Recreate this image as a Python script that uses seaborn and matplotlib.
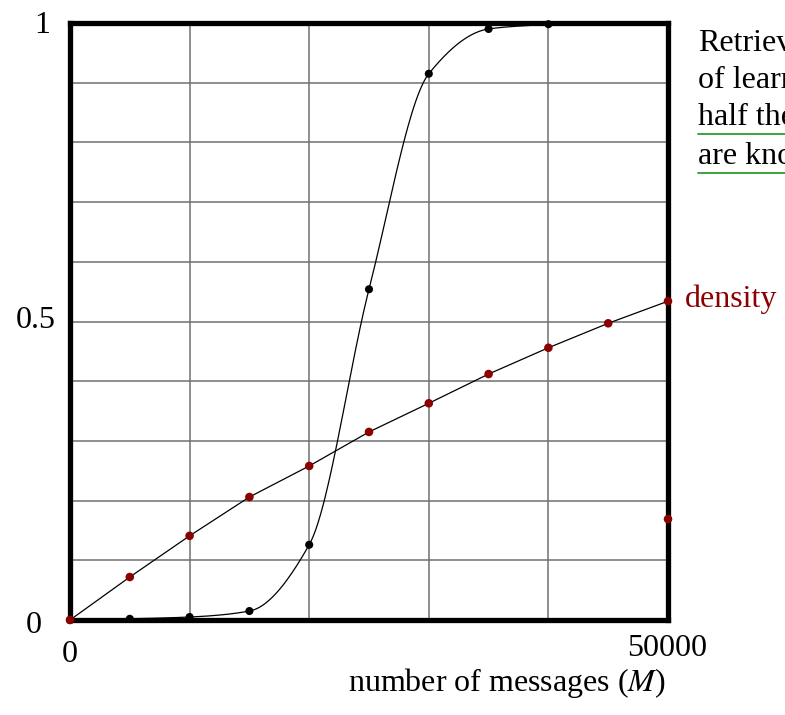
import numpy as np
import matplotlib
matplotlib.use("Agg")
import matplotlib.pyplot as plt
from matplotlib.lines import Line2D
import seaborn as sns

# Retrieval curve samples (fraction of messages retrieved)
msg_counts = [0, 5000, 10000, 15000, 20000, 25000, 30000, 35000, 40000]
retrieval = [0.0, 0.002, 0.005, 0.015, 0.126, 0.554, 0.915, 0.99, 0.998]

# Memory density samples
density_counts = [0, 5000, 10000, 15000, 20000, 25000, 30000, 35000, 40000, 45000, 50000]
density = [0.0, 0.072, 0.141, 0.206, 0.258, 0.315, 0.363, 0.412, 0.456, 0.497, 0.534]

# Isolated density marker on the right edge
extra_count = [50000]
extra_density = [0.169]

x_ticks = [0, 10000, 20000, 30000, 40000, 50000]
y_ticks = [0.0, 0.1, 0.2, 0.3, 0.4, 0.5, 0.6, 0.7, 0.8, 0.9, 1.0]
x_labels = {0: "0", 50000: "50000"}
y_labels = {0.0: "0", 0.5: "0.5", 1.0: "1"}

side_lines = ["Retrieval", "of learned", "half the bits", "are known"]

DARK_RED = "#8b0000"
GREEN = "#2e9a2e"
W, H = 785, 715


def monotone_cubic(xk, yk, n=400):
    """Fritsch-Carlson monotone Hermite curve through the given knots."""
    xk = np.asarray(xk, float)
    yk = np.asarray(yk, float)
    h = np.diff(xk)
    d = np.diff(yk) / h
    m = np.zeros_like(yk)
    m[0], m[-1] = d[0], d[-1]
    for i in range(1, len(xk) - 1):
        if d[i - 1] * d[i] <= 0:
            m[i] = 0.0
        else:
            w1 = 2 * h[i] + h[i - 1]
            w2 = h[i] + 2 * h[i - 1]
            m[i] = (w1 + w2) / (w1 / d[i - 1] + w2 / d[i])
    xs = np.linspace(xk[0], xk[-1], n)
    idx = np.clip(np.searchsorted(xk, xs) - 1, 0, len(h) - 1)
    t = (xs - xk[idx]) / h[idx]
    h00 = 2 * t**3 - 3 * t**2 + 1
    h10 = t**3 - 2 * t**2 + t
    h01 = -2 * t**3 + 3 * t**2
    h11 = t**3 - t**2
    ys = (h00 * yk[idx] + h10 * h[idx] * m[idx]
          + h01 * yk[idx + 1] + h11 * h[idx] * m[idx + 1])
    return xs, ys


sns.set_style("white")
plt.rcParams["font.family"] = ["Liberation Serif", "DejaVu Serif"]
plt.rcParams["mathtext.fontset"] = "stix"
plt.rcParams["text.color"] = "black"

fig = plt.figure(figsize=(W / 100, H / 100), dpi=100)
ax = fig.add_axes([70 / W, 1 - 620 / H, 598 / W, 597 / H])

ax.set_xlim(0, 50000)
ax.set_ylim(0, 1)
ax.set_xticks(x_ticks)
ax.set_yticks(y_ticks)
ax.set_xticklabels([])
ax.set_yticklabels([])
ax.tick_params(length=0)
ax.grid(True, color="#707070", linewidth=1.1)
ax.set_axisbelow(True)
for sp in ax.spines.values():
    sp.set_visible(True)
    sp.set_color("black")
    sp.set_linewidth(3.8)

# Smooth retrieval curve and its sample points
cx, cy = monotone_cubic(msg_counts, retrieval)
sns.lineplot(x=cx, y=cy, ax=ax, color="black", linewidth=0.9, sort=False)
sns.scatterplot(x=msg_counts, y=retrieval, ax=ax, color="black", s=34,
                edgecolor="none", zorder=5, clip_on=False)

# Density line and points
sns.lineplot(x=density_counts, y=density, ax=ax, color="black",
             linewidth=0.9, sort=False)
sns.scatterplot(x=density_counts, y=density, ax=ax, color=DARK_RED, s=38,
                edgecolor="none", zorder=6, clip_on=False)
sns.scatterplot(x=extra_count, y=extra_density, ax=ax, color=DARK_RED, s=38,
                edgecolor="none", zorder=6, clip_on=False)


def px(x, y):
    return x / W, 1 - y / H


FS = 23

# Axis numbers
y_text_pos = {0.0: (34, 633), 0.5: (36, 328), 1.0: (42, 33)}
for v, s in y_labels.items():
    fig.text(*px(*y_text_pos[v]), s, fontsize=FS, ha="center", va="baseline")
x_text_pos = {0: (70, 662), 50000: (667, 656)}
for v, s in x_labels.items():
    fig.text(*px(*x_text_pos[v]), s, fontsize=FS, ha="center", va="baseline")

fig.text(*px(507, 691), r"number of messages ($\mathit{M}$)", fontsize=FS,
         ha="center", va="baseline")

# Series label
fig.text(*px(685, 307), "density", fontsize=FS, color=DARK_RED,
         ha="left", va="baseline")

# Side note, running off the right edge
baselines = [51, 88, 125, 164]
for s, b in zip(side_lines, baselines):
    fig.text(*px(698, b), s, fontsize=FS, ha="left", va="baseline")
for uy in (134, 173):
    fig.add_artist(Line2D([698 / W, 1.0], [1 - uy / H] * 2,
                          transform=fig.transFigure, color=GREEN,
                          linewidth=1.3))

fig.savefig("out.png", dpi=100)
